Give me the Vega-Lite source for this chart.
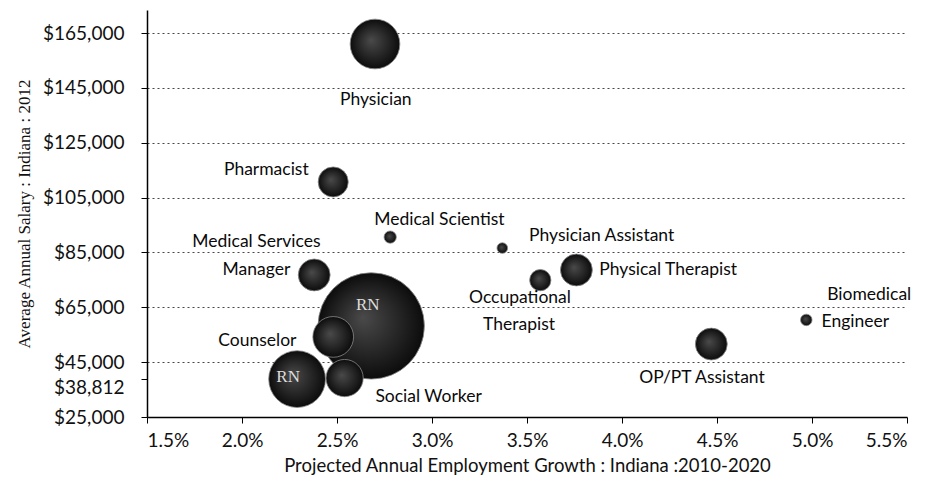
{
  "$schema": "https://vega.github.io/schema/vega-lite/v6.json",
  "width": 760,
  "height": 407,
  "autosize": {"type": "none"},
  "padding": {"left": 147, "top": 10, "right": 24, "bottom": 67},
  "background": "white",
  "config": {"view": {"stroke": null}, "font": "Lato"},
  "datasets": {
    "bubbles": [
      {"job": "RN", "growth": 0.0268, "salary": 58200, "employment": 60000},
      {"job": "Physician", "growth": 0.0270, "salary": 161000, "employment": 13100},
      {"job": "Pharmacist", "growth": 0.0248, "salary": 110700, "employment": 4800},
      {"job": "Medical Scientist", "growth": 0.0278, "salary": 90600, "employment": 800},
      {"job": "Physician Assistant", "growth": 0.0337, "salary": 86600, "employment": 600},
      {"job": "Physical Therapist", "growth": 0.0376, "salary": 78600, "employment": 5400},
      {"job": "Occupational Therapist", "growth": 0.0357, "salary": 74900, "employment": 2400},
      {"job": "Biomedical Engineer", "growth": 0.0497, "salary": 60400, "employment": 700},
      {"job": "OP/PT Assistant", "growth": 0.0447, "salary": 51600, "employment": 5400},
      {"job": "Medical Services Manager", "growth": 0.0238, "salary": 76800, "employment": 5400},
      {"job": "Counselor", "growth": 0.0248, "salary": 54200, "employment": 8800},
      {"job": "RN (lower)", "growth": 0.0229, "salary": 38812, "employment": 17100},
      {"job": "Social Worker", "growth": 0.0254, "salary": 39200, "employment": 7350}
    ],
    "labels": [
      {"label": "Physician", "growth": 0.02704, "salary": 140570},
      {"label": "Pharmacist", "growth": 0.02128, "salary": 115050},
      {"label": "Medical Scientist", "growth": 0.03039, "salary": 96820},
      {"label": "Physician Assistant", "growth": 0.03893, "salary": 90990},
      {"label": "Physical Therapist", "growth": 0.04243, "salary": 78590},
      {"label": "Medical Services", "growth": 0.02076, "salary": 88800},
      {"label": "Manager", "growth": 0.02076, "salary": 78590},
      {"label": "Occupational", "growth": 0.03463, "salary": 68380},
      {"label": "Therapist", "growth": 0.03458, "salary": 58540},
      {"label": "Biomedical", "growth": 0.05301, "salary": 69470},
      {"label": "Engineer", "growth": 0.05228, "salary": 59630},
      {"label": "OP/PT Assistant", "growth": 0.04421, "salary": 39210},
      {"label": "Counselor", "growth": 0.02081, "salary": 52700},
      {"label": "Social Worker", "growth": 0.02982, "salary": 32290},
      {"label": "RN", "growth": 0.02662, "salary": 65830},
      {"label": "RN", "growth": 0.02243, "salary": 39580}
    ]
  },
  "layer": [
    {
      "data": {"name": "bubbles"},
      "mark": {
        "type": "point",
        "shape": "circle",
        "filled": true,
        "opacity": 1,
        "fill": {
          "gradient": "radial",
          "x1": 0.42, "y1": 0.42, "r1": 0,
          "x2": 0.5, "y2": 0.5, "r2": 0.5,
          "stops": [
            {"offset": 0, "color": "#4a4a4a"},
            {"offset": 1, "color": "#0c0c0c"}
          ]
        },
        "stroke": "#8a8a8a",
        "strokeWidth": 0.8
      },
      "encoding": {
        "x": {
          "field": "growth",
          "type": "quantitative",
          "scale": {"domain": [0.015, 0.055], "nice": false, "zero": false},
          "axis": {
            "values": [0.015, 0.02, 0.025, 0.03, 0.035, 0.04, 0.045, 0.05, 0.055],
            "format": ".1%",
            "grid": false,
            "labelOverlap": false,
            "domainColor": "#000",
            "domainWidth": 1.5,
            "tickColor": "#000",
            "tickSize": 6,
            "labelFont": "Lato",
            "labelFontSize": 19,
            "labelColor": "#111",
            "labelPadding": 8,
            "title": "Projected Annual Employment Growth : Indiana :2010-2020",
            "titleFont": "Lato",
            "titleFontSize": 18.5,
            "titleFontWeight": "normal",
            "titleColor": "#111",
            "titlePadding": 6
          }
        },
        "y": {
          "field": "salary",
          "type": "quantitative",
          "scale": {"domain": [25000, 173400], "nice": false, "zero": false},
          "axis": {
            "values": [25000, 38812, 45000, 65000, 85000, 105000, 125000, 145000, 165000],
            "format": "$,.0f",
            "grid": true,
            "labelOverlap": false,
            "labelOffset": {"condition": {"test": "datum.value == 38812", "value": 8}, "value": 0},
            "gridDash": [2, 3],
            "gridColor": "#333",
            "gridWidth": 1,
            "gridOpacity": {"condition": {"test": "datum.value == 38812 || datum.value == 25000", "value": 0}, "value": 0.9},
            "domainColor": "#000",
            "domainWidth": 1.5,
            "tickColor": "#000",
            "tickSize": 6,
            "labelFont": "Lato",
            "labelFontSize": 19,
            "labelColor": "#111",
            "labelPadding": 17,
            "title": "Average Annual Salary : Indiana : 2012",
            "titleFont": "Liberation Serif",
            "titleFontSize": 17,
            "titleFontWeight": "normal",
            "titleColor": "#111",
            "titlePadding": 9
          }
        },
        "size": {
          "field": "employment",
          "type": "quantitative",
          "scale": {"type": "linear", "domain": [0, 60000], "range": [0, 11310], "zero": true},
          "legend": null
        }
      }
    },
    {
      "data": {"name": "labels"},
      "transform": [{"filter": "datum.label !== 'RN'"}],
      "mark": {"type": "text", "font": "Lato", "fontSize": 17.5, "color": "#0a0a0a", "align": "center", "baseline": "middle"},
      "encoding": {
        "x": {"field": "growth", "type": "quantitative"},
        "y": {"field": "salary", "type": "quantitative"},
        "text": {"field": "label", "type": "nominal"}
      }
    },
    {
      "data": {"name": "labels"},
      "transform": [{"filter": "datum.label === 'RN'"}],
      "mark": {"type": "text", "font": "Liberation Serif", "fontSize": 17, "fill": "#dddddd", "align": "center", "baseline": "middle"},
      "encoding": {
        "x": {"field": "growth", "type": "quantitative"},
        "y": {"field": "salary", "type": "quantitative"},
        "text": {"field": "label", "type": "nominal"}
      }
    }
  ]
}
